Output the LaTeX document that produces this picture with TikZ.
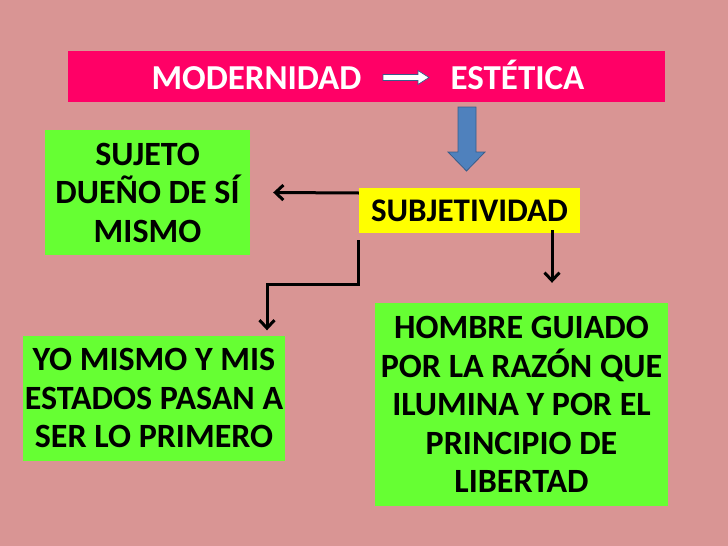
\documentclass[tikz,border=0pt]{standalone}
\usepackage{fontspec}
\setmainfont{Carlito}
\usetikzlibrary{arrows.meta,calc}
\definecolor{bgpink}{RGB}{217,149,148}
\definecolor{titlered}{RGB}{255,0,102}
\definecolor{boxgreen}{RGB}{102,255,51}
\definecolor{boxyellow}{RGB}{255,255,0}
\definecolor{arrowblue}{RGB}{79,129,189}
\definecolor{arrowblueedge}{RGB}{56,93,138}
\tikzset{
  greenbox/.style={fill=boxgreen, draw=none, align=center, inner sep=0pt,
    font=\bfseries\fontsize{34}{38.5}\selectfont, text=black},
  conn/.style={draw=black, line width=3pt, -{Straight Barb[length=8pt,width=15pt]}},
  titletext/.style={font=\bfseries\fontsize{35}{40}\selectfont, text=white, inner sep=0pt, anchor=base},
}
\begin{document}
\begin{tikzpicture}[x=1pt,y=-1pt]
\fill[bgpink] (0,0) rectangle (728,546);
\useasboundingbox (0,0) rectangle (728,546);

% title bar
\node[fill=titlered, minimum width=597pt, minimum height=51pt, inner sep=0pt] (title) at (366.5,76.5) {};
\node[titletext] (modern) at (256.5,89.5) {MODERNIDAD};
\node[titletext] (estet) at (517.5,89.5) {ESTÉTICA};
\draw[fill=white, draw=arrowblueedge, line width=0.7pt]
  (383,74.5) -- (418,74.5) -- (418,70.5) -- (429,77.5) -- (418,84.5) -- (418,80.5) -- (383,80.5) -- cycle;

% blue down arrow
\draw[fill=arrowblue, draw=arrowblueedge, line width=0.8pt]
  (458,107) -- (476,107) -- (476,152) -- (485,152) -- (466.5,171) -- (448,152) -- (458,152) -- cycle;

% boxes
\node[fill=boxyellow, minimum width=221pt, minimum height=45pt, inner sep=0pt,
  font=\bfseries\fontsize{33}{38}\selectfont] (yel) at (469.5,210.5) {SUBJETIVIDAD};
\node[greenbox, minimum width=205pt, minimum height=125pt] (sujeto) at (147.5,192.5)
  {SUJETO\\DUEÑO DE SÍ\\MISMO};
\node[greenbox, minimum width=262pt, minimum height=125pt] (yo) at (154,398)
  {YO MISMO Y MIS\\ESTADOS PASAN A\\SER LO PRIMERO};
\node[greenbox, minimum width=293pt, minimum height=203pt] (hombre) at (521.5,404.5)
  {HOMBRE GUIADO\\POR LA RAZÓN QUE\\ILUMINA Y POR EL\\PRINCIPIO DE\\LIBERTAD};

% connectors
\coordinate (a1s) at ([yshift=17.5pt]yel.west);
\coordinate (a1e) at ([xshift=23pt]sujeto.east);
\draw[conn] (a1s) -- (a1e);
\coordinate (a2s) at ([yshift=-7pt]yel.south west);
\coordinate (a2e) at ([xshift=113pt,yshift=5pt]yo.north);
\draw[conn] (a2s) -- ++(0,44) -| (a2e);
\coordinate (a3s) at ([xshift=82.5pt,yshift=3pt]yel.south);
\coordinate (a3e) at ([xshift=30.5pt,yshift=20pt]hombre.north);
\draw[conn] (a3s) -- (a3e);
\end{tikzpicture}
\end{document}
